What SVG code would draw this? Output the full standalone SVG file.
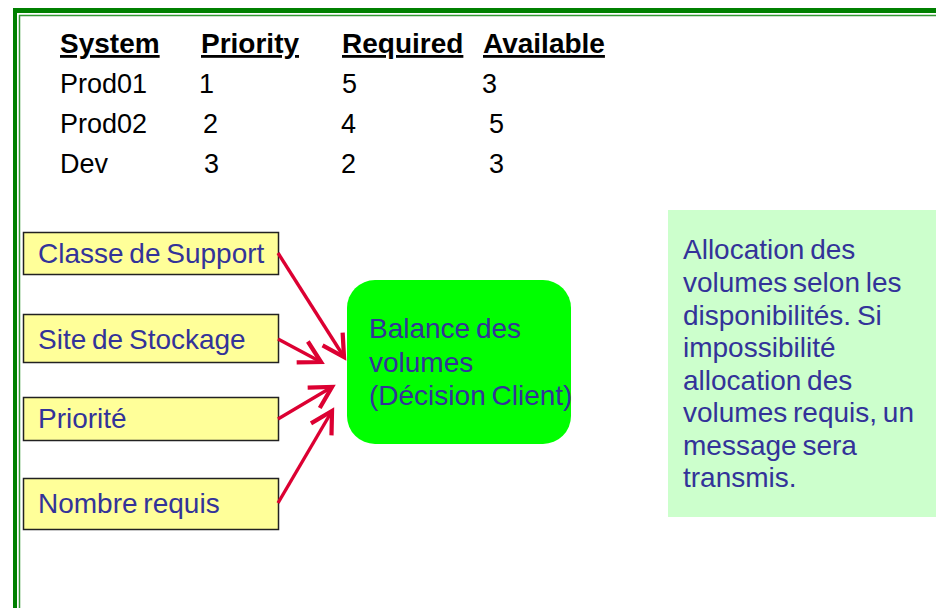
<svg xmlns="http://www.w3.org/2000/svg" width="936" height="608" viewBox="0 0 936 608">
<style>
.tb{font-family:"Liberation Sans",Arial,sans-serif;font-size:27px;fill:#000}
.th{font-weight:bold;font-size:28px;text-decoration:underline}
.bt{font-family:"Liberation Sans",Arial,sans-serif;font-size:28px;word-spacing:-2px;fill:#333399}
.ybox{fill:#FFFF99;stroke:#222;stroke-width:1.5}
.arr{fill:none;stroke:#DC0032;stroke-width:3.4;marker-end:url(#ah)}
</style>
<defs>
<marker id="ah" markerUnits="userSpaceOnUse" markerWidth="30" markerHeight="30" viewBox="-20 -12 24 24" refX="0" refY="0" orient="auto">
<path d="M-17,-9.5 L0,0 L-17,9.5" fill="none" stroke="#DC0032" stroke-width="3.4"/>
</marker>
</defs>
<rect width="936" height="608" fill="#fff"/>
<g id="frame">
<line x1="13" y1="10.5" x2="936" y2="10.5" stroke="#008000" stroke-width="5"/>
<line x1="15" y1="8" x2="15" y2="608" stroke="#008000" stroke-width="4"/>
<line x1="19" y1="15.5" x2="936" y2="15.5" stroke="#339933" stroke-width="1.5"/>
<line x1="19.5" y1="15" x2="19.5" y2="608" stroke="#339933" stroke-width="1.5"/>
</g>
<g id="table">
<text class="tb th" x="60" y="53">System</text>
<text class="tb th" x="201" y="53">Priority</text>
<text class="tb th" x="342" y="53">Required</text>
<text class="tb th" x="483" y="53">Available</text>
<text class="tb" x="60" y="93">Prod01</text>
<text class="tb" x="199" y="93">1</text>
<text class="tb" x="342" y="93">5</text>
<text class="tb" x="482" y="93">3</text>
<text class="tb" x="60" y="133">Prod02</text>
<text class="tb" x="203" y="133">2</text>
<text class="tb" x="341" y="133">4</text>
<text class="tb" x="489" y="133">5</text>
<text class="tb" x="60" y="173">Dev</text>
<text class="tb" x="204" y="173">3</text>
<text class="tb" x="341" y="173">2</text>
<text class="tb" x="489" y="173">3</text>
</g>
<g id="classe">
<rect class="ybox" x="23.5" y="232.5" width="255" height="42"/>
<text class="bt" x="38" y="263">Classe de Support</text>
</g>
<g id="site">
<rect class="ybox" x="23.5" y="314.5" width="255" height="48"/>
<text class="bt" x="38" y="349">Site de Stockage</text>
</g>
<g id="priorite">
<rect class="ybox" x="23.5" y="397.5" width="255" height="43"/>
<text class="bt" x="38" y="428">Priorité</text>
</g>
<g id="nombre">
<rect class="ybox" x="23.5" y="478.5" width="255" height="51"/>
<text class="bt" x="38" y="513">Nombre requis</text>
</g>
<g id="balance">
<rect x="347" y="280" width="224" height="164" rx="28" ry="28" fill="#00FF00"/>
<text class="bt" x="369" y="338">Balance des</text>
<text class="bt" x="369" y="372">volumes</text>
<text class="bt" x="369" y="405">(Décision Client)</text>
</g>
<g id="note">
<rect x="668" y="210" width="268" height="307" fill="#CCFFCC"/>
<text class="bt" x="683" y="259">Allocation des</text>
<text class="bt" x="683" y="292">volumes selon les</text>
<text class="bt" x="683" y="325">disponibilités. Si</text>
<text class="bt" x="683" y="357">impossibilité</text>
<text class="bt" x="683" y="390">allocation des</text>
<text class="bt" x="683" y="422">volumes requis, un</text>
<text class="bt" x="683" y="455">message sera</text>
<text class="bt" x="683" y="487">transmis.</text>
</g>
<g id="connectors">
<path class="arr" d="M278,253 L344,357"/>
<path class="arr" d="M278,339 L321,362"/>
<path class="arr" d="M278,419 L332,387"/>
<path class="arr" d="M278,503 L332,411"/>
</g>
</svg>
